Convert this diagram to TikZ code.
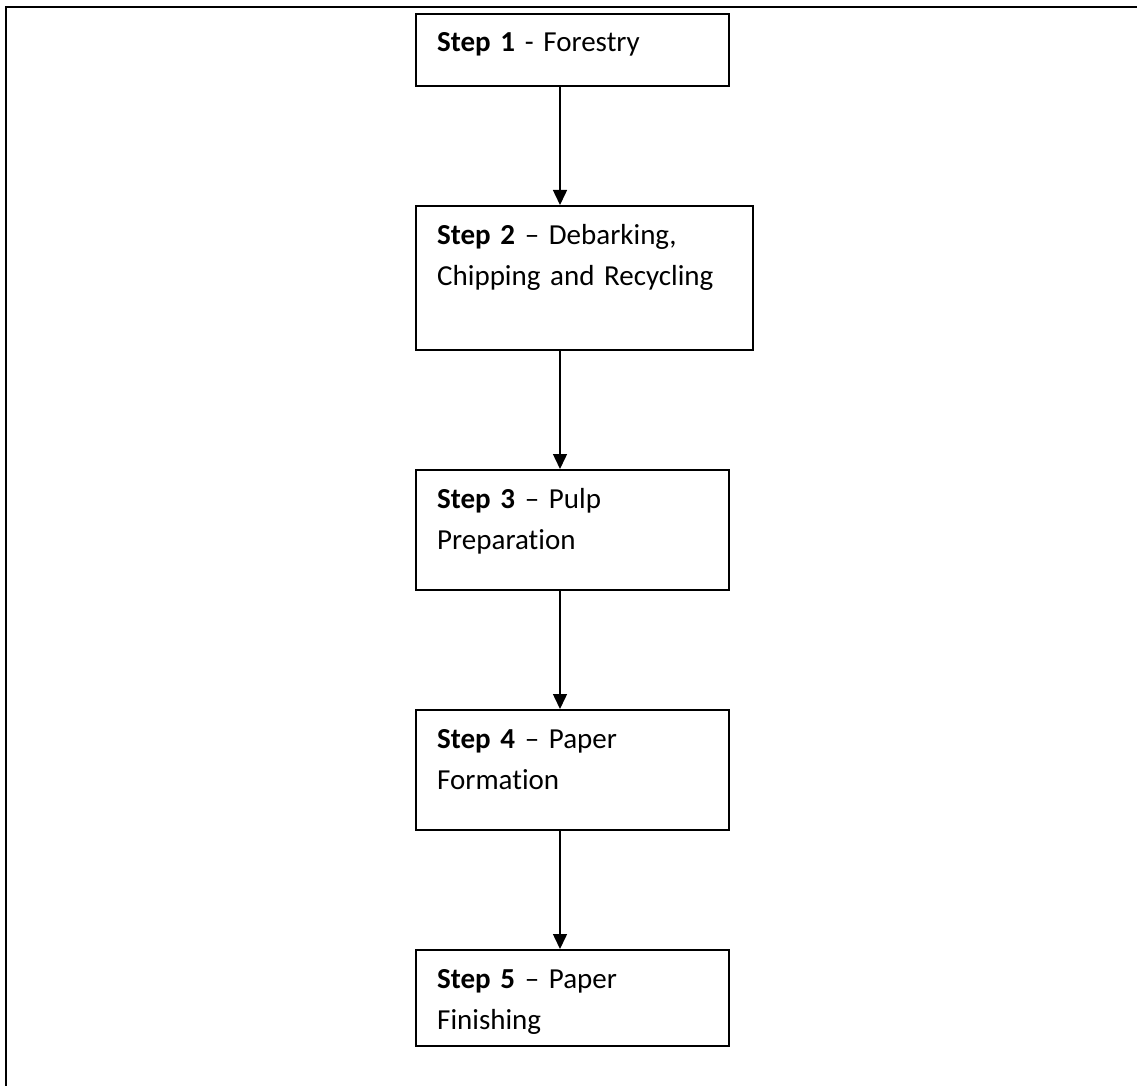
\documentclass[tikz,border=0pt]{standalone}
\usepackage{fontspec}
\setmainfont[RawFeature=-liga]{Carlito}
\usetikzlibrary{arrows.meta}
\begin{document}
\begin{tikzpicture}[x=1pt,y=-1pt,
  stepbox/.style={draw=black, line width=1.6pt, rectangle, inner sep=0pt, anchor=north west, minimum width=313pt},
  steptext/.style={anchor=base west, inner sep=0pt, text width=300pt, align=left,
     font=\fontsize{29}{41}\selectfont, xshift=22pt, yshift=-39pt},
  flow/.style={line width=1.5pt, -{Triangle[width=14pt,length=15pt]}},
  frame/.style={line width=2.2pt}]
\useasboundingbox (0,0) rectangle (1137,1086);
\fill[white] (0,0) rectangle (1137,1086);
% frame
\coordinate (fa) at (6,1086);
\coordinate (fb) at (6,7);
\coordinate (fc) at (1137,7);
\draw[frame] (fa) -- (fb) -- (fc);
% boxes
\node[stepbox, minimum height=72pt] (b1) at (415,13) {};
\node[stepbox, minimum width=337pt, minimum height=144pt] (b2) at (415,205) {};
\node[stepbox, minimum height=120pt] (b3) at (415,469) {};
\node[stepbox, minimum height=120pt] (b4) at (415,709) {};
\node[stepbox, minimum height=96pt] (b5) at (415,949) {};
% texts
\node[steptext] (t1) at (b1.north west) {\textbf{Step 1} - Forestry};
\node[steptext] (t2) at (b2.north west) {\textbf{Step 2} – Debarking,\\Chipping and Recycling};
\node[steptext] (t3) at (b3.north west) {\textbf{Step 3} – Pulp\\Preparation};
\node[steptext] (t4) at (b4.north west) {\textbf{Step 4} – Paper\\Formation};
\node[steptext] (t5) at (b5.north west) {\textbf{Step 5} – Paper\\Finishing};
% arrows
\coordinate (ax) at (560,0);
\draw[flow] (b1.south -| ax) -- (b2.north -| ax);
\draw[flow] (b2.south -| ax) -- (b3.north -| ax);
\draw[flow] (b3.south -| ax) -- (b4.north -| ax);
\draw[flow] (b4.south -| ax) -- (b5.north -| ax);
\end{tikzpicture}
\end{document}
